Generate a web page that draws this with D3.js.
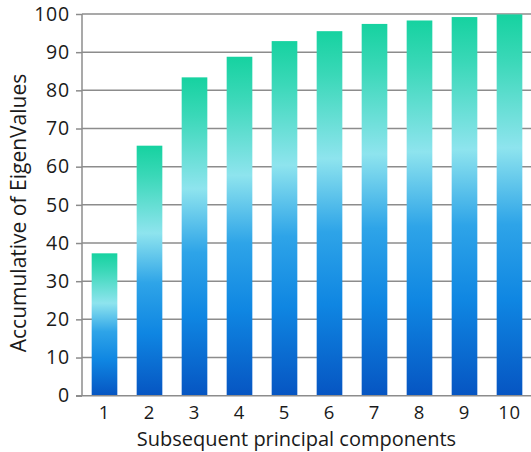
<!DOCTYPE html>
<html><head><meta charset="utf-8">
<script src="https://cdn.jsdelivr.net/npm/d3@7"></script>
<style>body{margin:0;background:#fff}svg{display:block}</style>
</head><body>
<script>
const categories = ["1","2","3","4","5","6","7","8","9","10"];
const values = [37.3, 65.5, 83.4, 88.8, 92.9, 95.5, 97.4, 98.3, 99.2, 99.9];
const yTicks = [0,10,20,30,40,50,60,70,80,90,100];
const yTitle = "Accumulative of EigenValues";
const xTitle = "Subsequent principal components";

const W = 531, H = 452;
const svg = d3.select("body").append("svg").attr("width", W).attr("height", H);
const x = d3.scaleBand().domain(categories).range([82, 532]).paddingInner(0.43).paddingOuter(0.215);
const y = d3.scaleLinear().domain([0, 100]).range([395.7, 14]);

const defs = svg.append("defs");
const g = defs.append("linearGradient").attr("id","bg").attr("x1",0).attr("y1",0).attr("x2",0).attr("y2",1);
[[0,"#16d2a0"],[0.12,"#3ad8b8"],[0.35,"#8ee4ee"],[0.55,"#2ea4e8"],[0.75,"#0f86e2"],[1,"#0655c2"]]
  .forEach(([o,c]) => g.append("stop").attr("offset",o).attr("stop-color",c));

const font = "'Open Sans', sans-serif";
// gridlines
svg.append("g").selectAll("line").data(yTicks.filter(d=>d>0)).join("line")
  .attr("x1", 82).attr("x2", W).attr("y1", d=>y(d)).attr("y2", d=>y(d))
  .attr("stroke", "#8c8c8c").attr("stroke-width", 1.5);

// bars
svg.append("g").selectAll("rect").data(values).join("rect")
  .attr("x", (d,i)=>x(categories[i])).attr("width", x.bandwidth())
  .attr("y", d=>y(d)).attr("height", d=>y(0)-y(d))
  .attr("fill", "url(#bg)");

// y axis
const ya = svg.append("g").attr("transform","translate(82,0)")
  .call(d3.axisLeft(y).tickValues(yTicks).tickSize(6).tickPadding(6).tickFormat(d3.format("d")));
ya.select(".domain").attr("stroke","#8c8c8c").attr("stroke-width",1.5).attr("d","M0,"+y(0)+"V"+y(100));
ya.selectAll(".tick line").attr("stroke","#8c8c8c").attr("stroke-width",1.5);
ya.selectAll("text").attr("font-family",font).attr("font-size",19.5)
  .attr("letter-spacing",0.8).attr("fill","#1a1a1a");

// x axis
const xa = svg.append("g").attr("transform","translate(0,"+y(0)+")")
  .call(d3.axisBottom(x).tickSize(0).tickPadding(10));
xa.select(".domain").attr("stroke","#8c8c8c").attr("stroke-width",1.5).attr("d","M76,0H"+W);
xa.selectAll("text").attr("font-family",font).attr("font-size",18.5)
  .attr("letter-spacing",0.8).attr("fill","#1a1a1a");

svg.append("text").attr("x", 296.5).attr("y", 446).attr("text-anchor","middle")
  .attr("font-family",font).attr("font-size",20).attr("fill","#1a1a1a").text(xTitle);
svg.append("text").attr("transform","translate(26,213) rotate(-90)").attr("text-anchor","middle")
  .attr("font-family",font).attr("font-size",21).attr("fill","#1a1a1a").text(yTitle);
</script>
</body></html>
